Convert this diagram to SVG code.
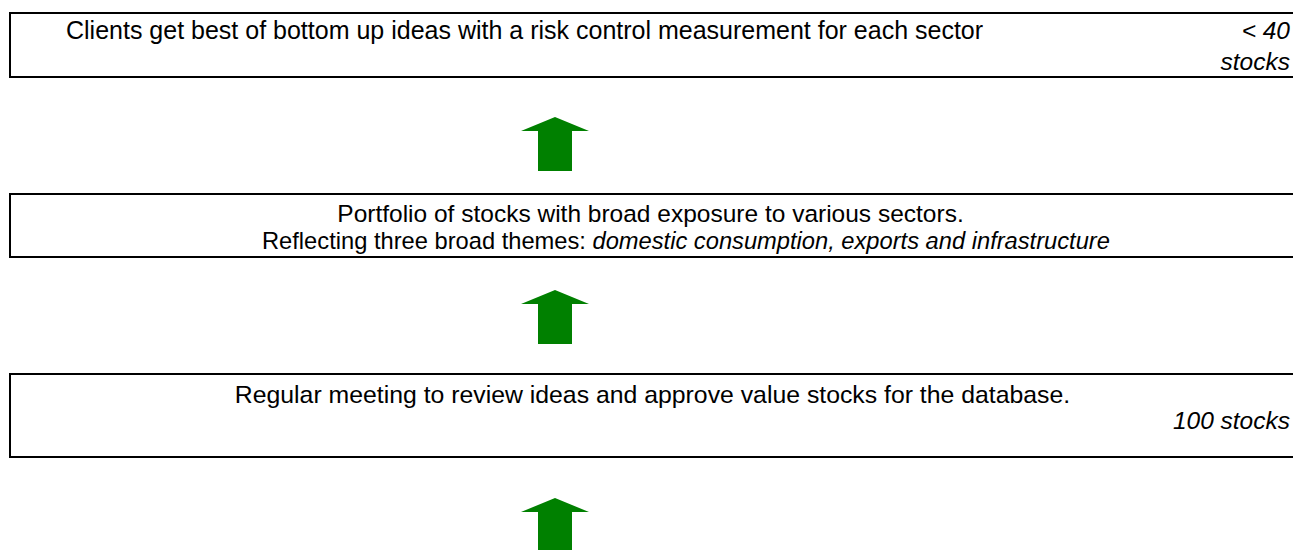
<svg xmlns="http://www.w3.org/2000/svg" width="1293" height="550" viewBox="0 0 1293 550">
<style>
.box{fill:#fff;stroke:#000;stroke-width:2}
.t{font-family:"Liberation Sans",Arial,sans-serif;font-size:24.5px;fill:#000}
.i{font-style:italic}
.arr{fill:#008000}
</style>
<rect width="1293" height="550" fill="#fff"/>
<g id="node1">
<rect class="box" x="10" y="13" width="1300" height="64"/>
<text class="t" x="66" y="39" style="font-size:25px">Clients get best of bottom up ideas with a risk control measurement for each sector</text>
<text class="t i" x="1290" y="39" text-anchor="end">&lt; 40</text>
<text class="t i" x="1290" y="70" text-anchor="end">stocks</text>
</g>
<g id="node2">
<rect class="box" x="10" y="194" width="1300" height="63"/>
<text class="t" x="650.5" y="222" text-anchor="middle">Portfolio of stocks with broad exposure to various sectors.</text>
<text class="t" x="262" y="249" style="font-size:23.7px">Reflecting three broad themes: <tspan class="i">domestic consumption, exports and infrastructure</tspan></text>
</g>
<g id="node3">
<rect class="box" x="10" y="374" width="1300" height="83"/>
<text class="t" x="652.5" y="403" text-anchor="middle" style="font-size:24.8px">Regular meeting to review ideas and approve value stocks for the database.</text>
<text class="t i" x="1290" y="429" text-anchor="end">100 stocks</text>
</g>
<g id="connectors">
<polygon class="arr" points="555,117 589,131 572,131 572,171 538,171 538,131 521,131"/>
<polygon class="arr" points="555,290 589,304 572,304 572,344 538,344 538,304 521,304"/>
<polygon class="arr" points="555,498 589,512 572,512 572,550 538,550 538,512 521,512"/>
</g>
</svg>
